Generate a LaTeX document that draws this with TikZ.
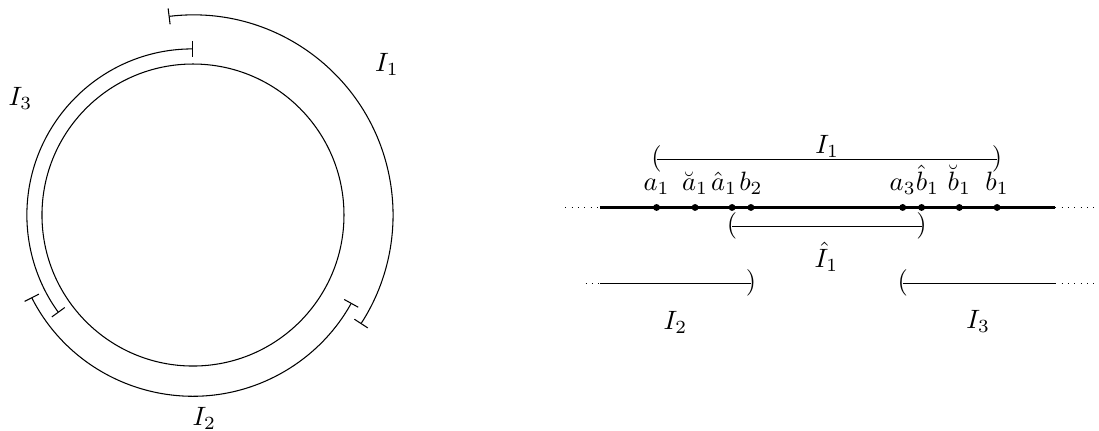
\documentclass[tikz,border=0pt]{standalone}
\usepackage{amsmath,amssymb}
\usetikzlibrary{arrows.meta}

\begin{document}
\begin{tikzpicture}[pt/.style={circle, fill, inner sep=0pt, minimum size=2.6pt}, br/.style={inner sep=0pt}, bar/.tip={Bar[width=6pt]}]
  \useasboundingbox (-2.556,-2.848) rectangle (12.0,2.848);
  \node[circle, draw, minimum size=4cm, inner sep=0pt] (c) at (0,0) {};
  \draw[bar-bar] (97:2.65) arc[start angle=97, end angle=-33, radius=2.65cm];
  \draw[bar-bar] (207:2.4) arc[start angle=207, end angle=331, radius=2.4cm];
  \draw[bar-bar] (90:2.2) arc[start angle=90, end angle=216, radius=2.2cm];
  \node (l1) at (2.57,2.0) {$I_1$};
  \node (l2) at (0.15,-2.7) {$I_2$};
  \node (l3) at (-2.285,1.55) {$I_3$};

  \coordinate (ml) at (5.39,0.1);
  \coordinate (mr) at (11.42,0.1);
  \coordinate (dl) at (4.93,0.1);
  \coordinate (dr) at (11.95,0.1);
  \draw[thick] (ml) -- (mr);
  \draw[dotted] (dl) -- (ml);
  \draw[dotted] (mr) -- (dr);
  \foreach \x/\n/\l/\s in {6.14/a1/a_1/0, 6.65/ca1/\breve a_1/0, 7.14/ha1/\hat a_1/-3, 7.39/b2/b_2/0, 9.40/a3/a_3/0, 9.65/hb1/\hat b_1/2.2, 10.15/cb1/\breve b_1/0, 10.65/b1/b_1/0}
    \node[pt, label={[xshift=\s pt]above:$\l$}] (\n) at (\x,0.1) {};

  \node[br] (i1l) at (a1 |- 0,0.74) {(};
  \node[br] (i1r) at (b1 |- 0,0.74) {)};
  \draw (i1l.center) -- (i1r.center);
  \node (i1) at (8.40,0.907) {$I_1$};
  \node[br] (hi1l) at (ha1 |- 0,-0.146) {(};
  \node[br] (hi1r) at (hb1 |- 0,-0.146) {)};
  \draw (hi1l.center) -- (hi1r.center);
  \node (hi1) at (8.39,-0.552) {$\hat I_1$};

  \coordinate (i2l) at (5.39,-0.905);
  \coordinate (i2d) at (5.2,-0.905);
  \node[br] (i2r) at (b2 |- i2l) {)};
  \draw (i2l) -- (i2r.center);
  \draw[dotted] (i2d) -- (i2l);
  \node (i2) at (6.39,-1.424) {$I_2$};
  \coordinate (i3r) at (11.42,-0.905);
  \coordinate (i3d) at (11.95,-0.905);
  \node[br] (i3l) at (a3 |- i3r) {(};
  \draw (i3l.center) -- (i3r);
  \draw[dotted] (i3r) -- (i3d);
  \node (i3) at (10.40,-1.415) {$I_3$};
\end{tikzpicture}
\end{document}
